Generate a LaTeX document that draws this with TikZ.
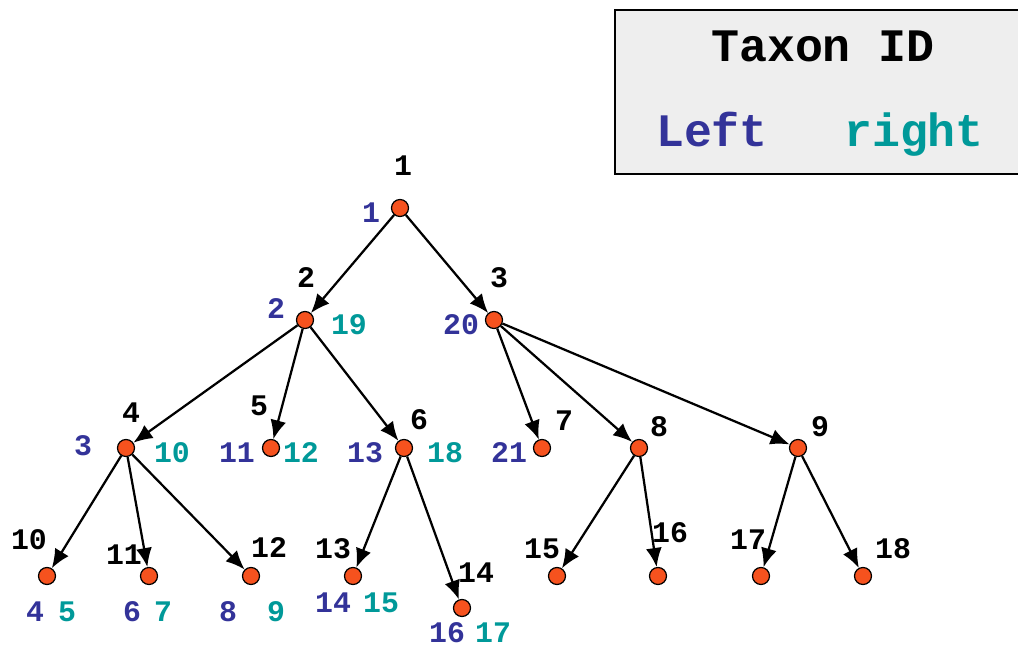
\documentclass[tikz,border=0pt]{standalone}
\usepackage{fontspec}
\setmonofont{Liberation Mono}
\usetikzlibrary{arrows.meta}
\definecolor{nodefill}{RGB}{246,82,30}
\definecolor{leftblue}{RGB}{51,51,153}
\definecolor{rightteal}{RGB}{0,153,153}
\definecolor{boxgray}{RGB}{238,238,238}

\begin{document}
\begin{tikzpicture}[x=0.02cm, y=-0.02cm,
	taxon/.style={circle, draw=black, line width=0.7pt, fill=nodefill, inner sep=0pt, minimum size=0.34cm},
	edge/.style={-{Latex[length=0.38cm,width=0.32cm]}, line width=0.045cm},
	lab/.style={font=\ttfamily\bfseries\fontsize{17}{20}\selectfont, inner sep=0pt},
	idlab/.style={lab, black},
	leftlab/.style={lab, leftblue},
	rightlab/.style={lab, rightteal}]
	\useasboundingbox (0,0) rectangle (1018,648);
	% legend box
	\fill[boxgray] (615,10) rectangle (1018,174);
	\draw[line width=0.04cm] (1018,10) -- (615,10) -- (615,174) -- (1018,174);
	\node[idlab, font=\ttfamily\bfseries\fontsize{26.5}{30}\selectfont, anchor=base] (title) at (823,62) {Taxon ID};
	\node[leftlab, font=\ttfamily\bfseries\fontsize{26.5}{30}\selectfont, anchor=base] (lefthead) at (712,147) {Left};
	\node[rightlab, font=\ttfamily\bfseries\fontsize{26.5}{30}\selectfont, anchor=base] (righthead) at (914,147) {right};
	% tree nodes
	\foreach \n/\x/\y in {1/400/208, 2/305/320, 3/494/320, 4/126/448, 5/271/448, 6/404/448,
		7/542/448, 8/639/448, 9/798/448, 10/47/576, 11/149/576, 12/251/576, 13/353/576,
		14/462/608, 15/557/576, 16/658/576, 17/761/576, 18/863/576}
		\node[taxon] (n\n) at (\x,\y) {};
	\foreach \a/\b in {1/2, 1/3, 2/4, 2/5, 2/6, 3/7, 3/8, 3/9, 4/10, 4/11, 4/12,
		6/13, 6/14, 8/15, 8/16, 9/17, 9/18}
		\draw[edge] (n\a) -- (n\b);
	% taxon ids
	\foreach \n/\x/\y in {1/403/166, 2/306/278, 3/499/278, 4/131/413, 5/259/406, 6/419/420,
		7/564/421, 8/659/427, 9/820/427, 10/29/540, 11/124/555, 12/269/548, 13/333/549,
		14/476/573, 15/542/549, 16/670/533, 17/748/540, 18/893/549}
		\node[idlab] (id\n) at (\x,\y) {\n};
	% left values
	\foreach \n/\t/\x/\y in {1/1/371/213, 2/2/276/309, 3/20/461/325, 4/3/83/446, 5/11/237/453,
		6/13/365/453, 7/21/509/453, 10/4/35/612, 11/6/132/612, 12/8/228/612,
		13/14/333/603, 14/16/447/633}
		\node[leftlab] (l\n) at (\x,\y) {\t};
	% right values
	\foreach \n/\t/\x/\y in {2/19/349/325, 4/10/172/453, 5/12/301/453, 6/18/445/453,
		10/5/67/612, 11/7/163/612, 12/9/276/612, 13/15/381/603, 14/17/493/633}
		\node[rightlab] (r\n) at (\x,\y) {\t};
\end{tikzpicture}
\end{document}
